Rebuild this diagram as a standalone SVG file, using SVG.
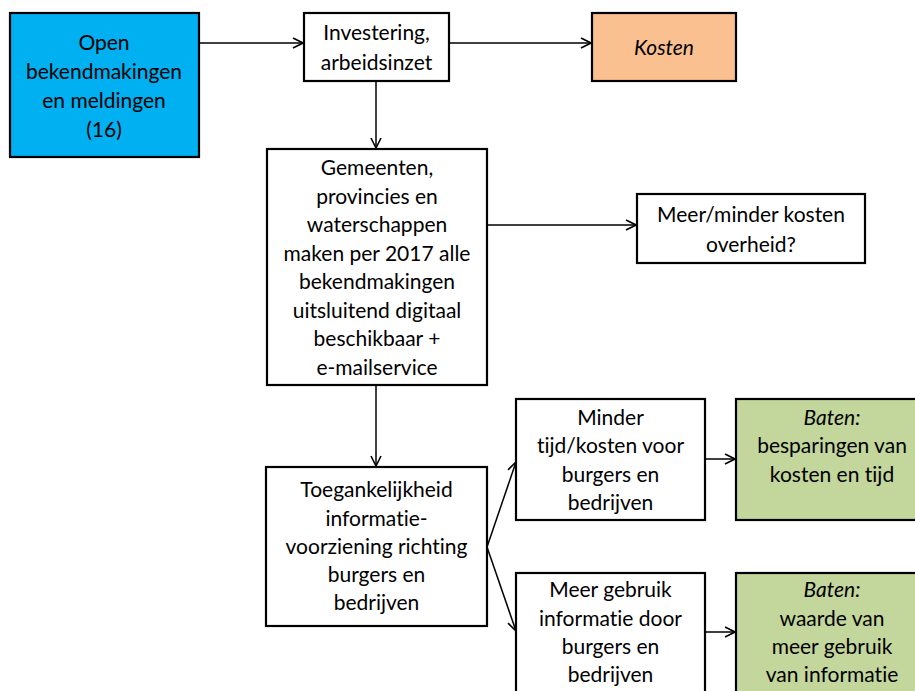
<svg xmlns="http://www.w3.org/2000/svg" width="915" height="691" viewBox="0 0 915 691">
<style>
.box{stroke:#000;stroke-width:2.2;}
.w{fill:#fff;}
.t{font-family:Lato,"Liberation Sans",sans-serif;font-size:21px;fill:#000;text-anchor:middle;font-variant-ligatures:none;}
.i{font-style:italic;}
.c{fill:none;stroke:#000;stroke-width:1.5;}
</style>
<defs>
<marker id="a" viewBox="0 0 12 12" refX="11" refY="6" markerWidth="12" markerHeight="12" markerUnits="userSpaceOnUse" orient="auto">
<path d="M1,1 L11,6 L1,11" fill="none" stroke="#000" stroke-width="1.6"/>
</marker>
</defs>
<rect width="915" height="691" fill="#fff"/>
<g id="connectors">
<line class="c" x1="199" y1="43" x2="303" y2="43" marker-end="url(#a)"/>
<line class="c" x1="449" y1="43" x2="591" y2="43" marker-end="url(#a)"/>
<line class="c" x1="376" y1="81" x2="376" y2="148" marker-end="url(#a)"/>
<line class="c" x1="487" y1="225" x2="636" y2="225" marker-end="url(#a)"/>
<line class="c" x1="376" y1="385" x2="376" y2="466" marker-end="url(#a)"/>
<line class="c" x1="487" y1="547" x2="516" y2="462" marker-end="url(#a)"/>
<line class="c" x1="487" y1="547" x2="516" y2="631" marker-end="url(#a)"/>
<line class="c" x1="705" y1="459" x2="735" y2="459" marker-end="url(#a)"/>
<line class="c" x1="705" y1="632" x2="735" y2="632" marker-end="url(#a)"/>
</g>
<g id="open">
<rect class="box" x="10" y="13" width="189" height="144" fill="#00B0F0"/>
<text class="t" x="104" y="50">Open</text>
<text class="t" x="104" y="79">bekendmakingen</text>
<text class="t" x="104" y="108">en meldingen</text>
<text class="t" x="104" y="137">(16)</text>
</g>
<g id="investering">
<rect class="box w" x="304" y="13" width="145" height="68"/>
<text class="t" x="376.5" y="40">Investering,</text>
<text class="t" x="376.5" y="70">arbeidsinzet</text>
</g>
<g id="kosten">
<rect class="box" x="592" y="13" width="144" height="68" fill="#FAC090"/>
<text class="t i" x="664" y="55">Kosten</text>
</g>
<g id="gemeenten">
<rect class="box w" x="267" y="149" width="220" height="236"/>
<text class="t" x="377" y="175">Gemeenten,</text>
<text class="t" x="377" y="204">provincies en</text>
<text class="t" x="377" y="232">waterschappen</text>
<text class="t" x="377" y="261">maken per 2017 alle</text>
<text class="t" x="377" y="289">bekendmakingen</text>
<text class="t" x="377" y="318">uitsluitend digitaal</text>
<text class="t" x="377" y="346">beschikbaar +</text>
<text class="t" x="377" y="375">e-mailservice</text>
</g>
<g id="overheid">
<rect class="box w" x="637" y="194" width="228" height="69"/>
<text class="t" x="751" y="222">Meer/minder kosten</text>
<text class="t" x="751" y="252">overheid?</text>
</g>
<g id="toegankelijkheid">
<rect class="box w" x="266" y="467" width="221" height="159"/>
<text class="t" x="376.5" y="497">Toegankelijkheid</text>
<text class="t" x="376.5" y="526">informatie-</text>
<text class="t" x="376.5" y="554">voorziening richting</text>
<text class="t" x="376.5" y="582">burgers en</text>
<text class="t" x="376.5" y="610">bedrijven</text>
</g>
<g id="minder">
<rect class="box w" x="516" y="399" width="189" height="121"/>
<text class="t" x="610.5" y="425">Minder</text>
<text class="t" x="610.5" y="453">tijd/kosten voor</text>
<text class="t" x="610.5" y="482">burgers en</text>
<text class="t" x="610.5" y="510">bedrijven</text>
</g>
<g id="baten1">
<rect class="box" x="736" y="399" width="192" height="121" fill="#C3D69B"/>
<text class="t i" x="832" y="425">Baten:</text>
<text class="t" x="832" y="453">besparingen van</text>
<text class="t" x="832" y="482">kosten en tijd</text>
</g>
<g id="meergebruik">
<rect class="box w" x="516" y="573" width="189" height="130"/>
<text class="t" x="610.5" y="597">Meer gebruik</text>
<text class="t" x="610.5" y="626">informatie door</text>
<text class="t" x="610.5" y="654">burgers en</text>
<text class="t" x="610.5" y="682">bedrijven</text>
</g>
<g id="baten2">
<rect class="box" x="736" y="573" width="192" height="130" fill="#C3D69B"/>
<text class="t i" x="832" y="597">Baten:</text>
<text class="t" x="832" y="626">waarde van</text>
<text class="t" x="832" y="654">meer gebruik</text>
<text class="t" x="832" y="682">van informatie</text>
</g>
</svg>
